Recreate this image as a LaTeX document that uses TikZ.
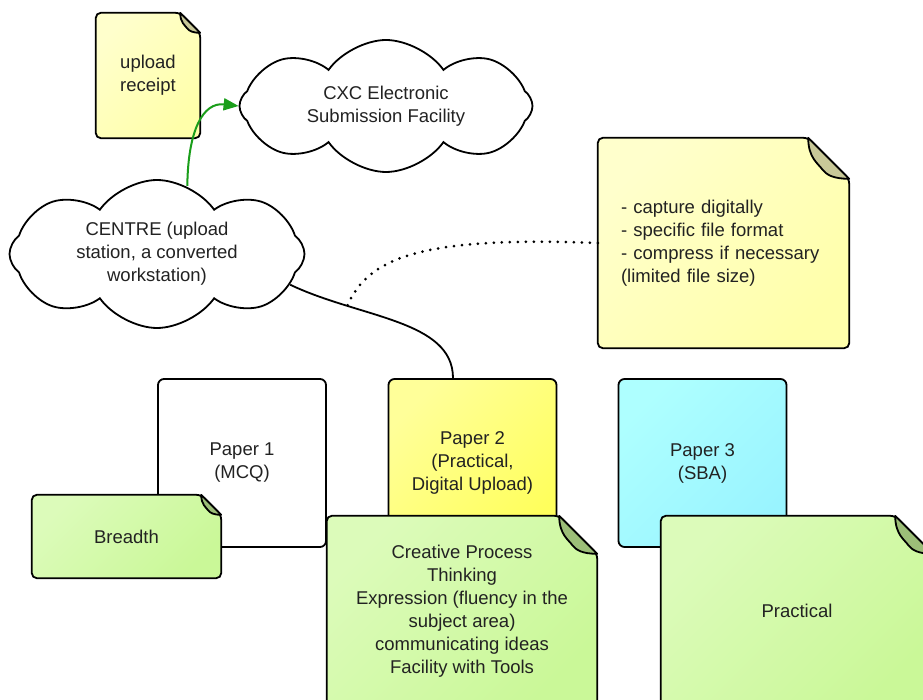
\documentclass[tikz,border=0pt]{standalone}
\usepackage{fontspec}
\setmainfont{Liberation Sans}
\usetikzlibrary{shapes.symbols,arrows.meta}
\definecolor{ink}{HTML}{222222}
\definecolor{ylA}{HTML}{FFFFCC}
\definecolor{ylB}{HTML}{FFFFAA}
\definecolor{ylFold}{HTML}{C8C898}
\definecolor{grA}{HTML}{DCFBBA}
\definecolor{grB}{HTML}{CAF898}
\definecolor{grFold}{HTML}{9CBE78}
\definecolor{ptwoA}{HTML}{FFFF99}
\definecolor{ptwoB}{HTML}{FFFF5C}
\definecolor{pthreeA}{HTML}{AEFFFF}
\definecolor{pthreeB}{HTML}{99F4FF}
\definecolor{arrowgreen}{HTML}{1A9E1A}
\tikzset{
  outline/.style={draw=black, line width=1.8pt},
  txt/.style={font=\fontsize{18.5}{23}\selectfont, text=ink, align=center},
  cloudbox/.style={cloud, cloud puffs=8, cloud puff arc=110, cloud ignores aspect, outline, fill=white, txt, inner sep=0pt},
  paperbox/.style={outline, rounded corners=6pt, minimum width=168pt, minimum height=168pt, txt},
  shadeby/.style 2 args={left color=#1, right color=#2, shading angle=45},
  conn/.style={draw=black, line width=1.8pt},
  dotconn/.style={draw=black, line width=3pt, line cap=round, dash pattern=on 0pt off 8pt},
}
% #1 name, #2 centre, #3 width, #4 height, #5 fold, #6 fill options, #7 fold colour
\newcommand\foldnote[7]{%
  \node[minimum width=#3, minimum height=#4, inner sep=0pt] (#1) at (#2) {};
  \draw[outline, rounded corners=5pt, #6] (#1.north west) -- ([xshift=-#5]#1.north east)
     -- ([yshift=-#5]#1.north east) -- (#1.south east) -- (#1.south west) -- cycle;
  \draw[outline, line join=round, fill=#7] ([xshift=-#5]#1.north east)
     .. controls +(0pt,-0.5*#5) and +(-0.1*#5,0.15*#5) .. ([xshift=-0.65*#5, yshift=-0.78*#5]#1.north east)
     .. controls +(0.1*#5,-0.12*#5) and +(-0.4*#5,0pt) .. ([yshift=-#5]#1.north east) -- cycle;
}
\begin{document}
\begin{tikzpicture}[x=1pt, y=-1pt]
\path[use as bounding box] (0,0) rectangle (923,700);
\clip (0,0) rectangle (923,700);
\fill[white] (0,0) rectangle (923,700);

% clouds
\node[cloudbox, minimum width=293pt, minimum height=132pt] (cxc) at (386,106) {CXC Electronic\\Submission Facility};
\node[cloudbox, minimum width=295pt, minimum height=148pt, shape border rotate=10] (centre) at (157,254) {CENTRE (upload\\station, a converted\\workstation)};

% papers
\node[paperbox, fill=white] (p1) at (242,463) {Paper 1\\(MCQ)};
\node[paperbox, shadeby={ptwoA}{ptwoB}] (p2) at (472.5,463) {Paper 2\\(Practical,\\Digital Upload)};
\node[paperbox, shadeby={pthreeA}{pthreeB}] (p3) at (702.5,463) {Paper 3\\(SBA)};

% notes
\foldnote{rcpt}{148,75.5}{104pt}{125pt}{20pt}{shadeby={ylA}{ylB}}{ylFold}
\node[txt] (rcpt-t) at (rcpt.center) {upload\\receipt};

\foldnote{req}{723.5,243}{251pt}{210pt}{41pt}{shadeby={ylA}{ylB}}{ylFold}
\node[txt, align=left, text width=205pt] (req-t) at (req.center) {- capture digitally\\- specific file format\\- compress if necessary\\(limited file size)};

\foldnote{brd}{126.5,536.5}{189pt}{83pt}{20pt}{shadeby={grA}{grB}}{grFold}
\node[txt] (brd-t) at (brd.center) {Breadth};

\foldnote{skills}{462,611}{270pt}{190pt}{38pt}{shadeby={grA}{grB}}{grFold}
\node[txt] (skills-t) at (skills.center) {Creative Process\\Thinking\\Expression (fluency in the\\subject area)\\communicating ideas\\Facility with Tools};

\foldnote{prac}{797,611}{272pt}{190pt}{38pt}{shadeby={grA}{grB}}{grFold}
\node[txt] (prac-t) at (prac.center) {Practical};

% connectors
\draw[arrowgreen, line width=2pt, -{Triangle[length=15pt,width=12pt]}] (centre.66) .. controls (188,130) and (203,102) .. (cxc.west);
\coordinate (p2top) at ([xshift=-19.5pt]p2.north);
\draw[conn] (centre.-13) .. controls (360,318) and (453,320) .. (p2top) coordinate[pos=0.26] (mid);
\draw[dotconn] (req.west) .. controls (420,236) and (368,258) .. (mid);
\end{tikzpicture}
\end{document}
